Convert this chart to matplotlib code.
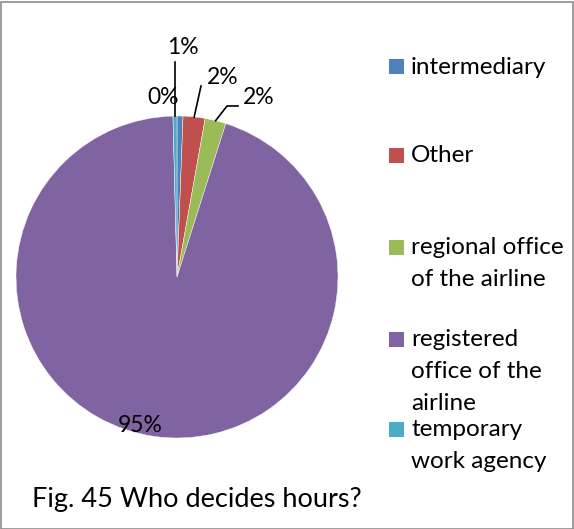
import matplotlib
matplotlib.use("Agg")
import matplotlib.pyplot as plt
from matplotlib.patches import Rectangle
import numpy as np

categories = ["intermediary", "Other", "regional office\nof the airline",
              "registered\noffice of the\nairline", "temporary\nwork agency"]
values = [0.6, 2.2, 2.1, 94.7, 0.4]
pct_labels = ["1%", "2%", "2%", "95%", "0%"]
colors = ["#4F81BD", "#C0504D", "#9BBB59", "#8064A2", "#4BACC6"]
title = "Fig. 45 Who decides hours?"

W, H = 574, 529
fig = plt.figure(figsize=(W / 100, H / 100), dpi=100)
fig.patch.set_facecolor("white")
plt.rcParams['font.family'] = ['Lato', 'DejaVu Sans']

cx, cy, R = 177, 277, 161
ax = fig.add_axes([(cx - R) / W, (H - cy - R) / H, 2 * R / W, 2 * R / H])
wedges, _ = ax.pie(values, colors=colors, startangle=90, counterclock=False,
                   wedgeprops=dict(edgecolor="white", linewidth=0.3))
ax.set_xlim(-1, 1)
ax.set_ylim(-1, 1)
ax.set_aspect("equal")
ax.axis("off")

def px2d(x, y):
    return ((x - cx) / R, (cy - y) / R)

# label positions (pixels)
label_px = [(183, 47), (223, 78), (259, 97), (140, 425), (163, 97)]
fs_lab = 16.5
for i, lab in enumerate(pct_labels):
    x, y = px2d(*label_px[i])
    ax.text(x, y, lab, ha="center", va="center", fontsize=fs_lab, color="black", clip_on=False)

def leader(points):
    pts = [px2d(*p) for p in points]
    ax.plot([p[0] for p in pts], [p[1] for p in pts], color="black", lw=1.2, clip_on=False)

def edge_point(w, frac=0.5):
    t = np.deg2rad(w.theta1 + frac * (w.theta2 - w.theta1))
    return cx + R * np.cos(t), cy - R * np.sin(t)

leader([(175, 62), (175, 116)])
leader([(201, 86), edge_point(wedges[1])])
leader([(238, 106), (227, 106), edge_point(wedges[2])])

# legend (manual, Excel-like layout)
legend_first_y = [67, 156, 248, 340, 430]
line_h = 31.5
fs_leg = 17.5
for lab, col, y0 in zip(categories, colors, legend_first_y):
    fig.add_artist(Rectangle((389 / W, (H - y0 - 7) / H), 15 / W, 15 / H,
                             transform=fig.transFigure, facecolor=col, edgecolor="none"))
    for j, line in enumerate(lab.split("\n")):
        fig.text(411 / W, (H - (y0 + j * line_h)) / H, line, ha="left", va="center",
                 fontsize=fs_leg, color="black")

fig.text(32 / W, (H - 500) / H, title, ha="left", va="center", fontsize=19.5, color="black")

# outer border
fig.add_artist(Rectangle((0.5 / W, 0.5 / H), (W - 2) / W, (H - 2) / H, transform=fig.transFigure,
                         facecolor="none", edgecolor="#8C8C8C", lw=1.2))

fig.savefig("out.png", dpi=100)
